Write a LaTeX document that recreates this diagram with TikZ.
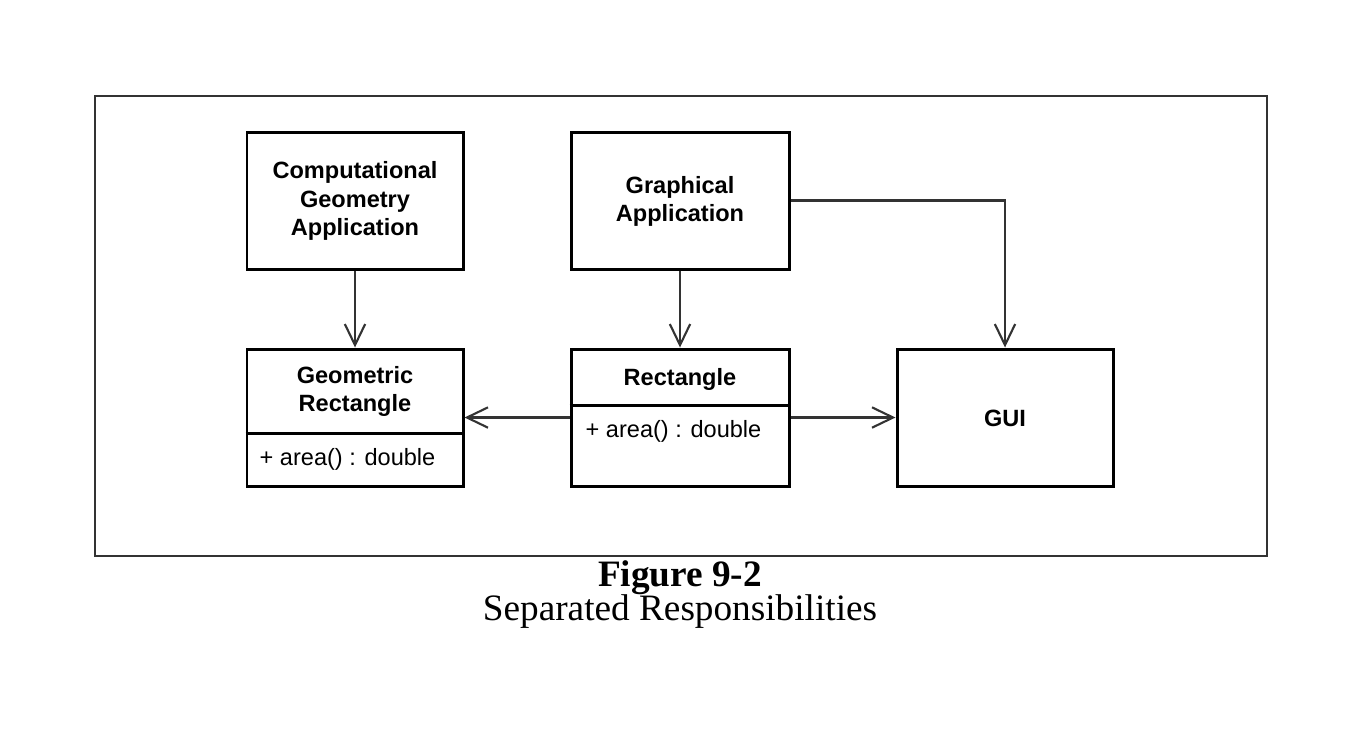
\documentclass[tikz,border=0pt]{standalone}
\usepackage{fontspec}
\setmainfont{Liberation Serif}
\setsansfont{Liberation Sans}
\usetikzlibrary{arrows.meta}
\begin{document}
\begin{tikzpicture}[x=0.1mm,y=-0.1mm,
  box/.style={draw=black, line width=0.85pt, rectangle, inner sep=0pt, fill=white},
  lbl/.style={font=\sffamily\bfseries\fontsize{6.7pt}{8pt}\selectfont, align=center, inner sep=0pt},
  attr/.style={font=\sffamily\fontsize{6.7pt}{8pt}\selectfont, inner sep=0pt, anchor=west},
  arr/.style={draw=black!80, line width=0.6pt, -{Straight Barb[length=6pt,width=5.8pt,line width=0.6pt]}},
  frame/.style={draw=black!80, line width=0.6pt}]
\useasboundingbox (0,0) rectangle (1350,743);
% outer frame
\node[frame, rectangle, minimum width=1172*0.1mm, minimum height=460*0.1mm, inner sep=0pt] (outer) at (681,326) {};
% boxes
\node[box, minimum width=216*0.1mm, minimum height=137*0.1mm] (cga) at (355,200.5) {};
\node[lbl] (cgat) at (355,201) {Computational\\Geometry\\Application};
\node[box, minimum width=218*0.1mm, minimum height=137*0.1mm] (ga) at (680,200.5) {};
\node[lbl] (gat) at (680,201) {Graphical\\Application};
\node[box, minimum width=216*0.1mm, minimum height=137*0.1mm] (gr) at (355,417.5) {};
\node[lbl] (grt) at (355,391) {Geometric\\Rectangle};
\coordinate (grdiv) at (355,433);
\draw[line width=0.85pt] (gr.west |- grdiv) -- (gr.east |- grdiv);
\node[attr] (gra) at (259,459) {+ area() : double};
\node[box, minimum width=218*0.1mm, minimum height=137*0.1mm] (rect) at (680,417.5) {};
\node[lbl] (rectt) at (680,379) {Rectangle};
\coordinate (rectdiv) at (680,405);
\draw[line width=0.85pt] (rect.west |- rectdiv) -- (rect.east |- rectdiv);
\node[attr] (recta) at (585,431) {+ area() : double};
\node[box, minimum width=216*0.1mm, minimum height=137*0.1mm] (gui) at (1005,417.5) {};
\node[lbl] (guit) at (1005,418) {GUI};
% connectors
\draw[arr] (cga.south) -- (gr.north);
\draw[arr] (ga.south) -- (rect.north);
\draw[arr] (ga.east) -| (gui.north);
\draw[arr] (rect.west) -- (gr.east);
\draw[arr] (rect.east) -- (gui.west);
% caption
\node[font=\bfseries\fontsize{10.6pt}{12pt}\selectfont, inner sep=0pt] (cap1) at (680,578) {Figure 9-2};
\node[font=\fontsize{10.6pt}{12pt}\selectfont, inner sep=0pt] (cap2) at (680,612) {Separated Responsibilities};
\end{tikzpicture}
\end{document}
